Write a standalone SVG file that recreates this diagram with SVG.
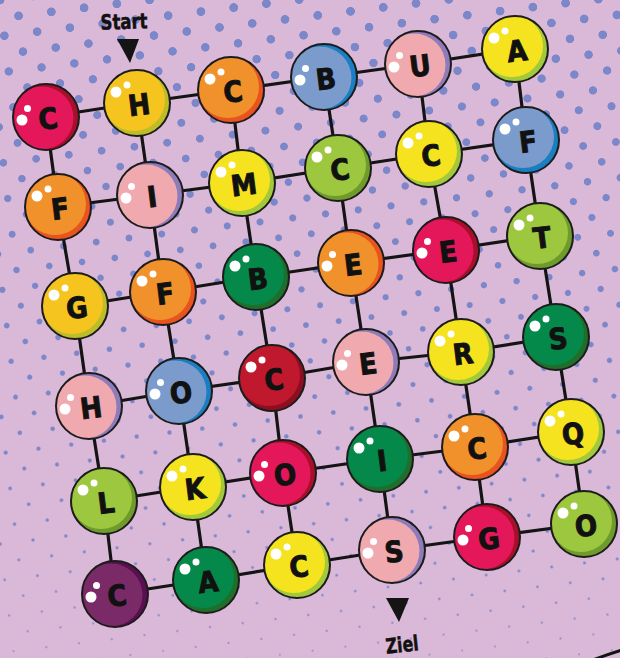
<svg xmlns="http://www.w3.org/2000/svg" width="620" height="658" viewBox="0 0 620 658">
<defs>
<style>
.lt{font-family:"DejaVu Sans Condensed","Liberation Sans Narrow","Liberation Sans",sans-serif;font-weight:bold;font-size:29px;fill:#111;stroke:#111;stroke-width:0.9;text-anchor:middle}
.lbl{font-family:"DejaVu Sans Condensed","Liberation Sans Narrow","Liberation Sans",sans-serif;font-weight:bold;font-size:21px;fill:#111;stroke:#111;stroke-width:0.5;text-anchor:middle}
.ol{fill:none;stroke:#1c1c1c;stroke-width:2}
.hl{fill:#fff}
.edges line{stroke:#141414;stroke-width:3.2;stroke-linecap:round}
.red{fill:#a90f2b;color:#e4175a}
.gold{fill:#bdbd2a;color:#f6c41f}
.orange{fill:#e8531f;color:#f0912b}
.blue{fill:#1a7ec3;color:#7a9bcc}
.pink{fill:#8e7bb9;color:#f0a9ae}
.yellow{fill:#a2c83b;color:#f6e31f}
.lgreen{fill:#6f9a2c;color:#9dc73f}
.dgreen{fill:#1f6e2c;color:#05894a}
.dred{fill:#8c0f20;color:#c0192e}
.purple{fill:#5a0f52;color:#7b2a68}
</style>
<clipPath id="bc"><circle r="33"/></clipPath>
<radialGradient id="soft"><stop offset="0" stop-color="#7c87c9" stop-opacity="1"/><stop offset="1" stop-color="#7c87c9" stop-opacity="0"/></radialGradient>
<pattern id="dots" width="33" height="36" patternUnits="userSpaceOnUse" patternTransform="rotate(-7)">
<circle cx="0" cy="0" r="6.5" fill="url(#soft)"/><circle cx="33" cy="0" r="6.5" fill="url(#soft)"/><circle cx="0" cy="36" r="6.5" fill="url(#soft)"/><circle cx="33" cy="36" r="6.5" fill="url(#soft)"/><circle cx="16.5" cy="18" r="6.5" fill="url(#soft)"/>
</pattern>
<linearGradient id="fg" gradientUnits="userSpaceOnUse" x1="0" y1="0" x2="0" y2="658">
<stop offset="0" stop-color="#fff" stop-opacity="1"/><stop offset="0.304" stop-color="#fff" stop-opacity="0.727"/><stop offset="0.5" stop-color="#fff" stop-opacity="0.571"/><stop offset="0.684" stop-color="#fff" stop-opacity="0.47"/><stop offset="0.912" stop-color="#fff" stop-opacity="0.39"/><stop offset="1" stop-color="#fff" stop-opacity="0.364"/>
</linearGradient>
<mask id="fade" maskUnits="userSpaceOnUse" x="0" y="0" width="620" height="658"><rect width="620" height="658" fill="url(#fg)"/></mask>
<filter id="thr" filterUnits="userSpaceOnUse" x="0" y="0" width="620" height="658" color-interpolation-filters="sRGB"><feComponentTransfer><feFuncA type="linear" slope="10" intercept="-2.7"/></feComponentTransfer></filter>
<g id="bA"><circle r="33"/><circle cx="-3" cy="-3" r="31" fill="currentColor" clip-path="url(#bc)"/><circle r="33" class="ol"/><circle cx="-21" cy="-11" r="5.5" class="hl"/><circle cx="-10" cy="-18" r="3.5" class="hl"/></g>
<g id="bB"><circle r="33"/><circle cx="-4" cy="1" r="31.5" fill="currentColor" clip-path="url(#bc)"/><circle r="33" class="ol"/><circle cx="-24" cy="3" r="5.5" class="hl"/><circle cx="-18.5" cy="-8.5" r="3.5" class="hl"/></g>
</defs>
<rect width="620" height="658" fill="#dab8d8"/>
<g filter="url(#thr)"><g mask="url(#fade)"><rect width="620" height="658" fill="url(#dots)"/></g></g>
<path d="M590 661 Q606 655 622 650" fill="none" stroke="#141414" stroke-width="3"/>
<g id="labels">
<text class="lbl" x="124" y="29" textLength="47" lengthAdjust="spacingAndGlyphs" transform="rotate(-2 124 22)">Start</text>
<path d="M117 39 L139 39 L130 63 Z" fill="#141414"/>
<path d="M386 598 L409 598 L399 622 Z" fill="#141414"/>
<text class="lbl" x="402" y="652" textLength="33" lengthAdjust="spacingAndGlyphs" transform="rotate(-6 402 644)">Ziel</text>
</g>
<g class="edges" id="connectors">
<line x1="46" y1="117" x2="137" y2="103"/><line x1="137" y1="103" x2="231" y2="90"/><line x1="231" y1="90" x2="324" y2="77"/><line x1="324" y1="77" x2="418" y2="64"/><line x1="418" y1="64" x2="515" y2="49"/>
<line x1="58" y1="207" x2="150" y2="195"/><line x1="150" y1="195" x2="242" y2="183"/><line x1="242" y1="183" x2="338" y2="168"/><line x1="338" y1="168" x2="429" y2="154"/><line x1="429" y1="154" x2="526" y2="140"/>
<line x1="75" y1="306" x2="163" y2="292"/><line x1="163" y1="292" x2="256" y2="277"/><line x1="256" y1="277" x2="351" y2="263"/><line x1="351" y1="263" x2="446" y2="250"/><line x1="446" y1="250" x2="540" y2="236"/>
<line x1="89" y1="406" x2="179" y2="391"/><line x1="179" y1="391" x2="272" y2="378"/><line x1="272" y1="378" x2="366" y2="362"/><line x1="366" y1="362" x2="461" y2="352"/><line x1="461" y1="352" x2="556" y2="337"/>
<line x1="104" y1="501" x2="193" y2="487"/><line x1="193" y1="487" x2="283" y2="473"/><line x1="283" y1="473" x2="380" y2="459"/><line x1="380" y1="459" x2="475" y2="447"/><line x1="475" y1="447" x2="571" y2="432"/>
<line x1="115" y1="594" x2="206" y2="580"/><line x1="206" y1="580" x2="297" y2="565"/><line x1="297" y1="565" x2="392" y2="550"/><line x1="392" y1="550" x2="487" y2="537"/><line x1="487" y1="537" x2="584" y2="524"/>
<line x1="46" y1="117" x2="58" y2="207"/><line x1="137" y1="103" x2="150" y2="195"/><line x1="231" y1="90" x2="242" y2="183"/><line x1="324" y1="77" x2="338" y2="168"/><line x1="418" y1="64" x2="429" y2="154"/><line x1="515" y1="49" x2="526" y2="140"/>
<line x1="58" y1="207" x2="75" y2="306"/><line x1="150" y1="195" x2="163" y2="292"/><line x1="242" y1="183" x2="256" y2="277"/><line x1="338" y1="168" x2="351" y2="263"/><line x1="429" y1="154" x2="446" y2="250"/><line x1="526" y1="140" x2="540" y2="236"/>
<line x1="75" y1="306" x2="89" y2="406"/><line x1="163" y1="292" x2="179" y2="391"/><line x1="256" y1="277" x2="272" y2="378"/><line x1="351" y1="263" x2="366" y2="362"/><line x1="446" y1="250" x2="461" y2="352"/><line x1="540" y1="236" x2="556" y2="337"/>
<line x1="89" y1="406" x2="104" y2="501"/><line x1="179" y1="391" x2="193" y2="487"/><line x1="272" y1="378" x2="283" y2="473"/><line x1="366" y1="362" x2="380" y2="459"/><line x1="461" y1="352" x2="475" y2="447"/><line x1="556" y1="337" x2="571" y2="432"/>
<line x1="104" y1="501" x2="115" y2="594"/><line x1="193" y1="487" x2="206" y2="580"/><line x1="283" y1="473" x2="297" y2="565"/><line x1="380" y1="459" x2="392" y2="550"/><line x1="475" y1="447" x2="487" y2="537"/><line x1="571" y1="432" x2="584" y2="524"/>
</g>
<g id="r1c1" class="red" transform="translate(46 117)"><use href="#bB"/><text class="lt" x="2" y="12" transform="rotate(-7 2 2)">C</text></g>
<g id="r1c2" class="gold" transform="translate(137 103)"><use href="#bA"/><text class="lt" x="2" y="12" transform="rotate(-7 2 2)">H</text></g>
<g id="r1c3" class="orange" transform="translate(231 90)"><use href="#bA"/><text class="lt" x="2" y="12" transform="rotate(-7 2 2)">C</text></g>
<g id="r1c4" class="blue" transform="translate(324 77)"><use href="#bB"/><text class="lt" x="2" y="12" transform="rotate(-7 2 2)">B</text></g>
<g id="r1c5" class="pink" transform="translate(418 64)"><use href="#bB"/><text class="lt" x="2" y="12" transform="rotate(-7 2 2)">U</text></g>
<g id="r1c6" class="yellow" transform="translate(515 49)"><use href="#bA"/><text class="lt" x="2" y="12" transform="rotate(-7 2 2)">A</text></g>
<g id="r2c1" class="orange" transform="translate(58 207)"><use href="#bA"/><text class="lt" x="2" y="12" transform="rotate(-7 2 2)">F</text></g>
<g id="r2c2" class="pink" transform="translate(150 195)"><use href="#bB"/><text class="lt" x="2" y="12" transform="rotate(-7 2 2)">I</text></g>
<g id="r2c3" class="yellow" transform="translate(242 183)"><use href="#bA"/><text class="lt" x="2" y="12" transform="rotate(-7 2 2)">M</text></g>
<g id="r2c4" class="lgreen" transform="translate(338 168)"><use href="#bA"/><text class="lt" x="2" y="12" transform="rotate(-7 2 2)">C</text></g>
<g id="r2c5" class="yellow" transform="translate(429 154)"><use href="#bA"/><text class="lt" x="2" y="12" transform="rotate(-7 2 2)">C</text></g>
<g id="r2c6" class="blue" transform="translate(526 140)"><use href="#bA"/><text class="lt" x="2" y="12" transform="rotate(-7 2 2)">F</text></g>
<g id="r3c1" class="gold" transform="translate(75 306)"><use href="#bA"/><text class="lt" x="2" y="12" transform="rotate(-7 2 2)">G</text></g>
<g id="r3c2" class="orange" transform="translate(163 292)"><use href="#bA"/><text class="lt" x="2" y="12" transform="rotate(-7 2 2)">F</text></g>
<g id="r3c3" class="dgreen" transform="translate(256 277)"><use href="#bA"/><text class="lt" x="2" y="12" transform="rotate(-7 2 2)">B</text></g>
<g id="r3c4" class="orange" transform="translate(351 263)"><use href="#bB"/><text class="lt" x="2" y="12" transform="rotate(-7 2 2)">E</text></g>
<g id="r3c5" class="red" transform="translate(446 250)"><use href="#bB"/><text class="lt" x="2" y="12" transform="rotate(-7 2 2)">E</text></g>
<g id="r3c6" class="lgreen" transform="translate(540 236)"><use href="#bA"/><text class="lt" x="2" y="12" transform="rotate(-7 2 2)">T</text></g>
<g id="r4c1" class="pink" transform="translate(89 406)"><use href="#bB"/><text class="lt" x="2" y="12" transform="rotate(-7 2 2)">H</text></g>
<g id="r4c2" class="blue" transform="translate(179 391)"><use href="#bB"/><text class="lt" x="2" y="12" transform="rotate(-7 2 2)">O</text></g>
<g id="r4c3" class="dred" transform="translate(272 378)"><use href="#bA"/><text class="lt" x="2" y="12" transform="rotate(-7 2 2)">C</text></g>
<g id="r4c4" class="pink" transform="translate(366 362)"><use href="#bB"/><text class="lt" x="2" y="12" transform="rotate(-7 2 2)">E</text></g>
<g id="r4c5" class="yellow" transform="translate(461 352)"><use href="#bA"/><text class="lt" x="2" y="12" transform="rotate(-7 2 2)">R</text></g>
<g id="r4c6" class="dgreen" transform="translate(556 337)"><use href="#bA"/><text class="lt" x="2" y="12" transform="rotate(-7 2 2)">S</text></g>
<g id="r5c1" class="lgreen" transform="translate(104 501)"><use href="#bA"/><text class="lt" x="2" y="12" transform="rotate(-7 2 2)">L</text></g>
<g id="r5c2" class="yellow" transform="translate(193 487)"><use href="#bA"/><text class="lt" x="2" y="12" transform="rotate(-7 2 2)">K</text></g>
<g id="r5c3" class="red" transform="translate(283 473)"><use href="#bB"/><text class="lt" x="2" y="12" transform="rotate(-7 2 2)">O</text></g>
<g id="r5c4" class="dgreen" transform="translate(380 459)"><use href="#bA"/><text class="lt" x="2" y="12" transform="rotate(-7 2 2)">I</text></g>
<g id="r5c5" class="orange" transform="translate(475 447)"><use href="#bA"/><text class="lt" x="2" y="12" transform="rotate(-7 2 2)">C</text></g>
<g id="r5c6" class="yellow" transform="translate(571 432)"><use href="#bA"/><text class="lt" x="2" y="12" transform="rotate(-7 2 2)">Q</text></g>
<g id="r6c1" class="purple" transform="translate(115 594)"><use href="#bB"/><text class="lt" x="2" y="12" transform="rotate(-7 2 2)">C</text></g>
<g id="r6c2" class="dgreen" transform="translate(206 580)"><use href="#bA"/><text class="lt" x="2" y="12" transform="rotate(-7 2 2)">A</text></g>
<g id="r6c3" class="yellow" transform="translate(297 565)"><use href="#bA"/><text class="lt" x="2" y="12" transform="rotate(-7 2 2)">C</text></g>
<g id="r6c4" class="pink" transform="translate(392 550)"><use href="#bB"/><text class="lt" x="2" y="12" transform="rotate(-7 2 2)">S</text></g>
<g id="r6c5" class="red" transform="translate(487 537)"><use href="#bB"/><text class="lt" x="2" y="12" transform="rotate(-7 2 2)">G</text></g>
<g id="r6c6" class="lgreen" transform="translate(584 524)"><use href="#bA"/><text class="lt" x="2" y="12" transform="rotate(-7 2 2)">O</text></g>
</svg>
